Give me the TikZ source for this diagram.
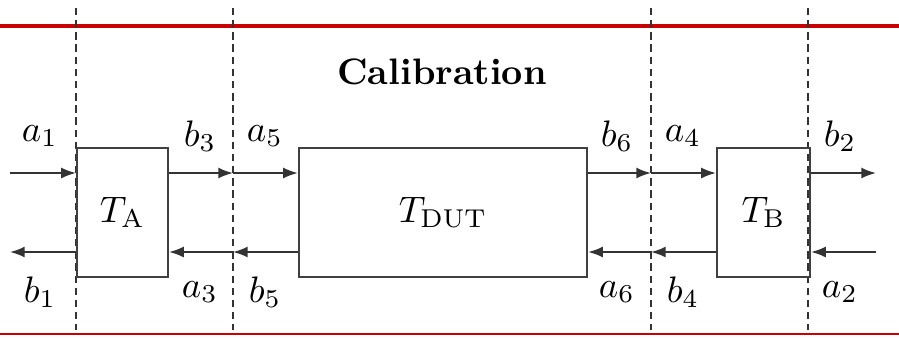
\documentclass[tikz,border=0pt]{standalone}
\usetikzlibrary{arrows.meta}
\definecolor{calred}{RGB}{200,0,0}
\begin{document}
\begin{tikzpicture}[x=0.00954cm,y=-0.00954cm,
  blk/.style={draw=black!75,line width=0.6pt,minimum height=1.231cm,inner sep=0pt},
  sig/.style={draw=black!80,line width=0.5pt,-{Latex[length=4pt,width=3pt]}},
  sep/.style={draw=black!80,line width=0.5pt,dash pattern=on 2pt off 1.3pt},
  lbl/.style={inner sep=0pt}]
\useasboundingbox (0,0) rectangle (899,337);
% separators
\draw[calred,line width=1.1pt] (0,26) -- (899,26);
\draw[calred,line width=0.6pt] (0,334) -- (899,334);
\foreach \x/\n in {76/s1,233/s2,651/s3,808/s4}{
  \coordinate (\n top) at (\x,8);
  \coordinate (\n bot) at (\x,330);
  \coordinate (\n u) at (\x,173);
  \coordinate (\n d) at (\x,252);
}
\draw[sep] (s1top) -- (s1bot);
\draw[sep] (s2top) -- (s2bot);
\draw[sep] (s3top) -- (s3bot);
\draw[sep] (s4top) -- (s4bot);
% boxes
\node[blk,minimum width=0.868cm] (TA) at (122.5,212.5) {$T_{\mathrm{A}}$};
\node[blk,minimum width=2.748cm] (DUT) at (443,212.5) {$T_{\mathrm{DUT}}$};
\node[blk,minimum width=0.887cm] (TB) at (763.5,212.5) {$T_{\mathrm{B}}$};
\node[font=\bfseries] (title) at (442,72) {Calibration};
% free ends
\coordinate (inL) at (10,173);
\coordinate (outL) at (10,252);
\coordinate (outR) at (876,173);
\coordinate (inR) at (876,252);
% top arrows
\draw[sig] (inL) -- (inL -| TA.west);
\draw[sig] (s2u -| TA.east) -- (s2u);
\draw[sig] (s2u) -- (s2u -| DUT.west);
\draw[sig] (s3u -| DUT.east) -- (s3u);
\draw[sig] (s3u) -- (s3u -| TB.west);
\draw[sig] (outR -| TB.east) -- (outR);
% bottom arrows
\draw[sig] (outL -| TA.west) -- (outL);
\draw[sig] (s2d) -- (s2d -| TA.east);
\draw[sig] (s2d -| DUT.west) -- (s2d);
\draw[sig] (s3d) -- (s3d -| DUT.east);
\draw[sig] (s3d -| TB.west) -- (s3d);
\draw[sig] (inR) -- (inR -| TB.east);
% labels
\node[lbl] (la1) at (40,136) {$a_1$};
\node[lbl] (lb3) at (200,136) {$b_3$};
\node[lbl] (la5) at (265,136) {$a_5$};
\node[lbl] (lb6) at (617,136) {$b_6$};
\node[lbl] (la4) at (683,136) {$a_4$};
\node[lbl] (lb2) at (840,136) {$b_2$};
\node[lbl] (lb1) at (40,292) {$b_1$};
\node[lbl] (la3) at (200,292) {$a_3$};
\node[lbl] (lb5) at (265,292) {$b_5$};
\node[lbl] (la6) at (617,292) {$a_6$};
\node[lbl] (lb4) at (683,292) {$b_4$};
\node[lbl] (la2) at (840,292) {$a_2$};
\end{tikzpicture}
\end{document}
